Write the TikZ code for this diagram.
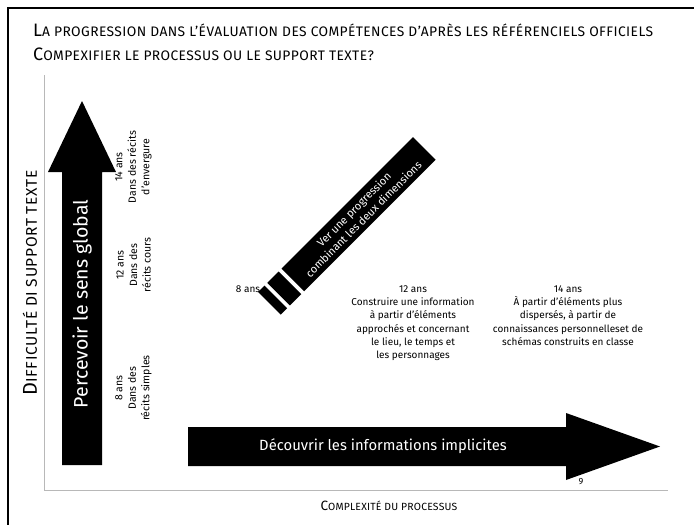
\documentclass[tikz,border=0pt]{standalone}
\usepackage{fontspec}
\setmainfont{Fira Sans}
\usetikzlibrary{positioning}

\tikzset{
  blockarrow/.style={fill=black},
  arrowlabel/.style={text=white, font=\fontsize{14.8}{16}\selectfont},
  bandlabel/.style={fill=black, text=white, rotate=45, inner sep=0pt, align=center,
    font=\fontsize{11}{13.5}\selectfont},
  stripe/.style={fill=black, rotate=45, inner sep=0pt, minimum height=32pt},
  agelabel/.style={rotate=90, align=center, font=\fontsize{10.5}{13.5}\selectfont},
  infolabel/.style={align=center, anchor=north, font=\fontsize{10}{13.3}\selectfont},
  titlelabel/.style={anchor=base west, inner sep=0pt, font=\fontsize{18}{20}\selectfont},
  axislabel/.style={font=\fontsize{13.5}{15}\selectfont},
  axisline/.style={draw=black!28, line width=0.9pt},
}
\newcommand{\petitcap}[1]{{\fontsize{13.8}{15}\selectfont\addfontfeatures{LetterSpace=3}#1}}
\newcommand{\grandcap}[1]{{\fontsize{15.5}{18}\selectfont\addfontfeatures{LetterSpace=4}#1}}
\newcommand{\axecap}[1]{{\fontsize{10.4}{12}\selectfont\addfontfeatures{LetterSpace=2}#1}}

\begin{document}
\begin{tikzpicture}[x=1pt,y=-1pt]
  \useasboundingbox (0,0) rectangle (694,525);
  % cadre
  \draw[line width=1.4pt] (8,540) -- (8,8) -- (710,8);
  % titre
  \node[titlelabel] (titre) at (33,36)
    {L\petitcap{A PROGRESSION DANS L'ÉVALUATION DES COMPÉTENCES D'APRÈS LES RÉFÉRENCIELS OFFICIELS}};
  \node[titlelabel] (soustitre) at (33,60)
    {C\petitcap{OMPEXIFIER LE PROCESSUS OU LE SUPPORT TEXTE?}};
  % axes
  \coordinate (haut) at (44,75);
  \coordinate (origine) at (44,490);
  \coordinate (droite) at (668,490);
  \draw[axisline] (haut) -- (origine) -- (droite);
  \node[titlelabel, anchor=center, rotate=90, font=\fontsize{20}{22}\selectfont] (difficulte) at (30,283)
    {D\grandcap{IFFICULTÉ DI SUPPORT TEXTE}};
  \node[axislabel] (complexite) at (389,506) {C\axecap{OMPLEXITÉ DU PROCESSUS}};
  % fleche verticale
  \fill[blockarrow] (62,465) -- (62,172) -- (48,172) -- (82,101) -- (116,172)
    -- (102,172) -- (102,465) -- cycle;
  \node[arrowlabel, rotate=90, font=\fontsize{19.5}{21}\selectfont] (percevoir) at (82,304) {Percevoir le sens global};
  \node[agelabel] (agehuit) at (133.5,388) {8 ans\\Dans des\\récits simples};
  \node[agelabel] (agedouze) at (133.5,265) {12 ans\\Dans des\\récits cours};
  \node[agelabel] (agequatorze) at (133.5,167) {14 ans\\Dans des récits\\d'envergure};
  % fleche horizontale
  \fill[blockarrow] (188,427) -- (566,427) -- (566,413) -- (660,446.5) -- (566,480)
    -- (566,466) -- (188,466) -- cycle;
  \node[arrowlabel] (decouvrir) at (383,446.5) {Découvrir les informations implicites};
  \node[font=\fontsize{9}{10}\selectfont] (page) at (581,482) {9};
  % progression diagonale
  \node[bandlabel, minimum width=186pt, minimum height=32pt] (progression) at (358.6,214.2)
    {Ver une progression\\combinant les deux dimensions};
  \node[stripe, minimum width=16pt] (raie1) at (284.3,288.5) {};
  \node[stripe, minimum width=9pt] (raie2) at (272.6,300.2) {};
  % paliers
  \node[font=\fontsize{10}{13.3}\selectfont] (huit) at (248,289) {8 ans};
  \node[infolabel] (douze) at (413,282) {12 ans\\Construire une information\\à partir d'éléments\\approchés et concernant\\le lieu, le temps et\\les personnages};
  \node[infolabel] (quatorze) at (568,282) {14 ans\\À partir d'éléments plus\\dispersés, à partir de\\connaissances personnelleset de\\schémas construits en classe};
\end{tikzpicture}
\end{document}
